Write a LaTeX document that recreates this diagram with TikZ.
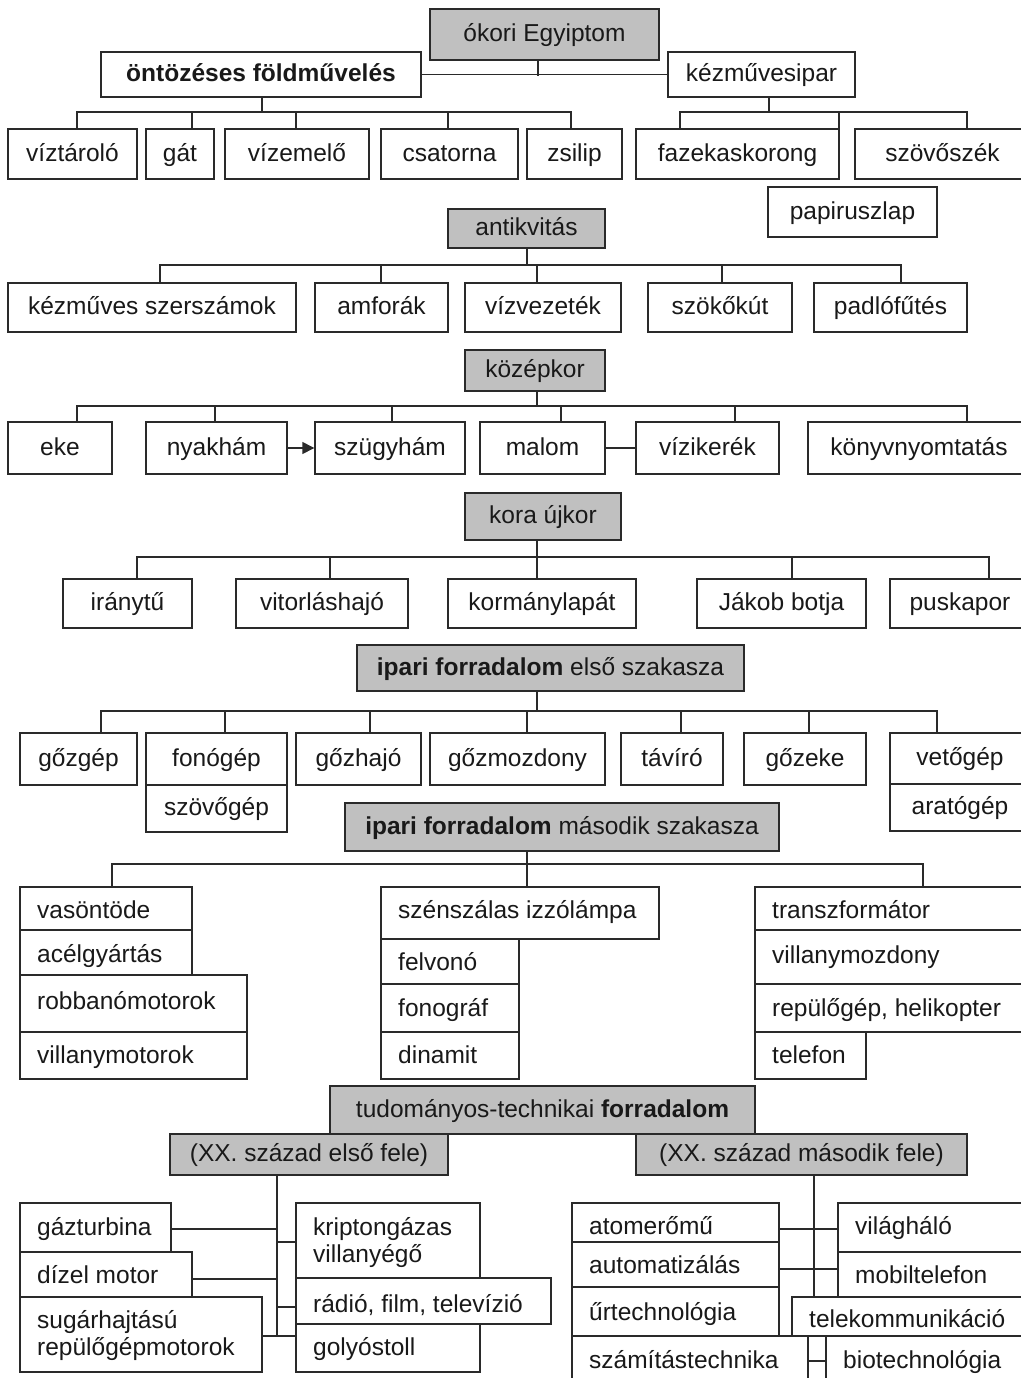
\documentclass[tikz,border=0pt]{standalone}
\usepackage{fontspec}
\setmainfont{Liberation Sans}
\usetikzlibrary{arrows.meta,calc}
\definecolor{hdgray}{HTML}{C0C0C0}
\definecolor{lncol}{HTML}{2A2A2A}
\newcommand\dfont{\fontsize{24.5}{27}\selectfont}
\tikzset{
  box/.style={draw=lncol, line width=1.4pt, fill=white, inner sep=0pt, text=black!90, font=\dfont, text height=18pt, text depth=4pt},
  hd/.style={box, fill=hdgray},
  lt/.style={anchor=base west, inner sep=0pt, text=black!90, font=\dfont},
  con/.style={draw=lncol, line width=1.4pt, line cap=rect},
}
% centred box: [style]{name}{x1}{y1}{x2}{y2}{text}
\newcommand\cbx[7][box]{\node[#1,minimum width={#5-#3},minimum height={#6-#4}] (#2) at ({(#3+#5)/2},{(#4+#6)/2}) {#7};}
% left aligned box: {name}{x1}{y1}{x2}{y2}{baseline y}{text}
\newcommand\lbx[7]{\node[box,minimum width={#4-#2},minimum height={#5-#3}] (#1) at ({(#2+#4)/2},{(#3+#5)/2}) {};
  \node[lt] (#1t) at ({#2+17},#6) {#7};}
% tree: {parent}{parent x}{bus y}{bus x1}{bus x2}{list x/node}
\newcommand\tree[6]{\coordinate (#1P) at (#2,#3);
  \draw[con] (#1P |- #1.south) -- (#1P);
  \coordinate (#1B1) at (#4,#3); \coordinate (#1B2) at (#5,#3);
  \draw[con] (#1B1) -- (#1B2);
  \foreach \xx/\nd [count=\ii] in {#6} {\coordinate (#1D\ii) at (\xx,#3); \draw[con] (#1D\ii) -- (#1D\ii |- \nd.north);}}
\begin{document}
\begin{tikzpicture}[x=1pt,y=-1pt]
\fill[white] (0,0) rectangle (1020,1378);
\useasboundingbox (0,0) rectangle (1020,1378);

% ---------- ókori Egyiptom
\cbx[hd]{oe}{430}{9}{659}{60}{ókori Egyiptom}
\cbx{ont}{101}{52}{421}{97}{\textbf{öntözéses földművelés}}
\cbx{kez}{668}{52}{855}{97}{kézművesipar}
\coordinate (oeP) at (538,75);
\draw[con] (oeP |- oe.south) -- (oeP);
\draw[con] (ont.east) -- (kez.west);

\cbx{vizt}{8}{129}{137}{179}{víztároló}
\cbx{gat}{146}{129}{214}{179}{gát}
\cbx{vizem}{225}{129}{369}{179}{vízemelő}
\cbx{csat}{381}{129}{518}{179}{csatorna}
\cbx{zsil}{527}{129}{622}{179}{zsilip}
\cbx{faz}{636}{129}{839}{179}{fazekaskorong}
\cbx{szov}{855}{129}{1030}{179}{szövőszék}
\cbx{papir}{768}{187}{937}{237}{papiruszlap}
\tree{ont}{262}{112}{77}{571}{77/vizt,192/gat,296/vizem,448/csat,571/zsil}
\tree{kez}{769}{112}{680}{967}{680/faz,839/faz,967/szov}

% ---------- antikvitás
\cbx[hd]{ant}{448}{209}{605}{248}{antikvitás}
\cbx{kesz}{8}{283}{296}{332}{kézműves szerszámok}
\cbx{amf}{315}{283}{448}{332}{amforák}
\cbx{vizv}{465}{283}{621}{332}{vízvezeték}
\cbx{szok}{648}{283}{792}{332}{szökőkút}
\cbx{padl}{814}{283}{967}{332}{padlófűtés}
\tree{ant}{527}{265}{160}{901}{160/kesz,381/amf,537/vizv,722/szok,901/padl}

% ---------- középkor
\cbx[hd]{koz}{465}{350}{605}{391}{középkor}
\cbx{eke}{8}{422}{112}{474}{eke}
\cbx{nyak}{146}{422}{287}{474}{nyakhám}
\cbx{szugy}{315}{422}{465}{474}{szügyhám}
\cbx{malom}{480}{422}{605}{474}{malom}
\cbx{vizik}{636}{422}{779}{474}{vízikerék}
\cbx{konyv}{808}{422}{1030}{474}{könyvnyomtatás}
\tree{koz}{537}{406}{77}{967}{77/eke,215/nyak,392/szugy,561/malom,735/vizik,967/konyv}
\draw[con,line cap=butt,-{Triangle[length=12pt,width=12pt]}] (nyak.east) -- (szugy.west);
\draw[con] (malom.east) -- (vizik.west);

% ---------- kora újkor
\cbx[hd]{kora}{465}{493}{621}{540}{kora újkor}
\cbx{iran}{63}{579}{192}{628}{iránytű}
\cbx{vitor}{236}{579}{408}{628}{vitorláshajó}
\cbx{korm}{448}{579}{636}{628}{kormánylapát}
\cbx{jakob}{697}{579}{866}{628}{Jákob botja}
\cbx{pusk}{890}{579}{1030}{628}{puskapor}
\tree{kora}{537}{557}{137}{989}{137/iran,330/vitor,537/korm,792/jakob,989/pusk}

% ---------- ipari forradalom első szakasza
\cbx[hd]{ipa}{357}{645}{744}{691}{\textbf{ipari forradalom} első szakasza}
\cbx{gozg}{20}{733}{137}{785}{gőzgép}
\cbx{fono}{146}{733}{287}{785}{fonógép}
\cbx{szovog}{146}{785}{287}{832}{szövőgép}
\cbx{gozh}{296}{733}{421}{785}{gőzhajó}
\cbx{gozm}{430}{733}{605}{785}{gőzmozdony}
\cbx{tavi}{621}{733}{723}{785}{távíró}
\cbx{goze}{744}{733}{866}{785}{gőzeke}
\cbx{veto}{890}{733}{1030}{784}{vetőgép}
\cbx{arat}{890}{784}{1030}{831}{aratógép}
\tree{ipa}{537}{711}{101}{937}{101/gozg,225/fono,370/gozh,527/gozm,681/tavi,809/goze,937/veto}

% ---------- ipari forradalom második szakasza
\cbx[hd]{ipb}{345}{803}{779}{851}{\textbf{ipari forradalom} második szakasza}
\lbx{vas}{20}{887}{192}{930}{918}{vasöntöde}
\lbx{acel}{20}{930}{192}{975}{962}{acélgyártás}
\lbx{robb}{20}{975}{247}{1032}{1009}{robbanómotorok}
\lbx{villm}{20}{1032}{247}{1079}{1063}{villanymotorok}
\lbx{szen}{381}{887}{659}{939}{918}{szénszálas izzólámpa}
\lbx{felv}{381}{939}{519}{984}{970}{felvonó}
\lbx{fonog}{381}{984}{519}{1032}{1016}{fonográf}
\lbx{dina}{381}{1032}{519}{1079}{1063}{dinamit}
\lbx{traf}{755}{887}{1030}{930}{918}{transzformátor}
\lbx{villmoz}{755}{930}{1030}{984}{963}{villanymozdony}
\lbx{repu}{755}{984}{1030}{1032}{1016}{repülőgép, helikopter}
\lbx{telef}{755}{1032}{866}{1079}{1063}{telefon}
\tree{ipb}{527}{864}{112}{923}{112/vas,527/szen,923/traf}

% ---------- tudományos-technikai forradalom
\cbx[hd]{tud}{330}{1086}{755}{1134}{tudományos-technikai \textbf{forradalom}}
\cbx[hd]{ef}{170}{1134}{448}{1175}{(XX. század első fele)}
\cbx[hd]{mf}{636}{1134}{967}{1175}{(XX. század második fele)}

\lbx{gaz}{20}{1203}{171}{1252}{1235}{gázturbina}
\lbx{diz}{20}{1252}{192}{1297}{1283}{dízel motor}
\lbx{sug}{20}{1297}{262}{1372}{1328}{\begin{tabular}[t]{@{}l@{}}sugárhajtású\\repülőgépmotorok\end{tabular}}
\lbx{kri}{296}{1203}{480}{1278}{1235}{\begin{tabular}[t]{@{}l@{}}kriptongázas\\villanyégő\end{tabular}}
\lbx{rad}{296}{1278}{551}{1324}{1312}{rádió, film, televízió}
\lbx{goly}{296}{1324}{480}{1372}{1355}{golyóstoll}

\coordinate (vL) at (277,1336);
\draw[con] (vL |- ef.south) -- (vL);
\coordinate (gazc) at ($(gaz.east)+(0,1.5)$);
\draw[con] (gazc) -- (gazc -| vL);
\coordinate (dizc) at ($(diz.east)+(0,4.5)$);
\draw[con] (dizc) -- (dizc -| vL);
\coordinate (sugc) at ($(sug.east)+(0,1.5)$);
\draw[con] (sugc) -- (sugc -| vL);
\coordinate (kric) at ($(kri.west)+(0,1.5)$);
\draw[con] (kric -| vL) -- (kric);
\coordinate (radc) at ($(rad.west)+(0,6)$);
\draw[con] (radc -| vL) -- (radc);
\coordinate (golc) at ($(goly.west)+(0,-12)$);
\draw[con] (golc -| vL) -- (golc);

\lbx{atom}{572}{1203}{779}{1242}{1234}{atomerőmű}
\lbx{auto}{572}{1242}{779}{1287}{1273}{automatizálás}
\lbx{urt}{572}{1287}{779}{1336}{1320}{űrtechnológia}
\lbx{szam}{572}{1336}{808}{1395}{1368}{számítástechnika}
\lbx{vil}{838}{1203}{1030}{1252}{1234}{világháló}
\lbx{mob}{838}{1252}{1030}{1297}{1283}{mobiltelefon}
\lbx{tel}{792}{1297}{1030}{1336}{1327}{telekommunikáció}
\lbx{bio}{826}{1336}{1030}{1395}{1368}{biotechnológia}

\coordinate (vR) at (814,1297);
\draw[con] (vR |- mf.south) -- (vR |- tel.north);
\coordinate (atc) at ($(atom.east)+(0,6.5)$);
\draw[con] (atc) -- (atc -| vil.west);
\coordinate (auc) at ($(auto.east)+(0,4.5)$);
\draw[con] (auc) -- (auc -| mob.west);
\coordinate (szc) at ($(szam.east)+(0,-4.5)$);
\draw[con] (szc) -- (szc -| bio.west);
\end{tikzpicture}
\end{document}
